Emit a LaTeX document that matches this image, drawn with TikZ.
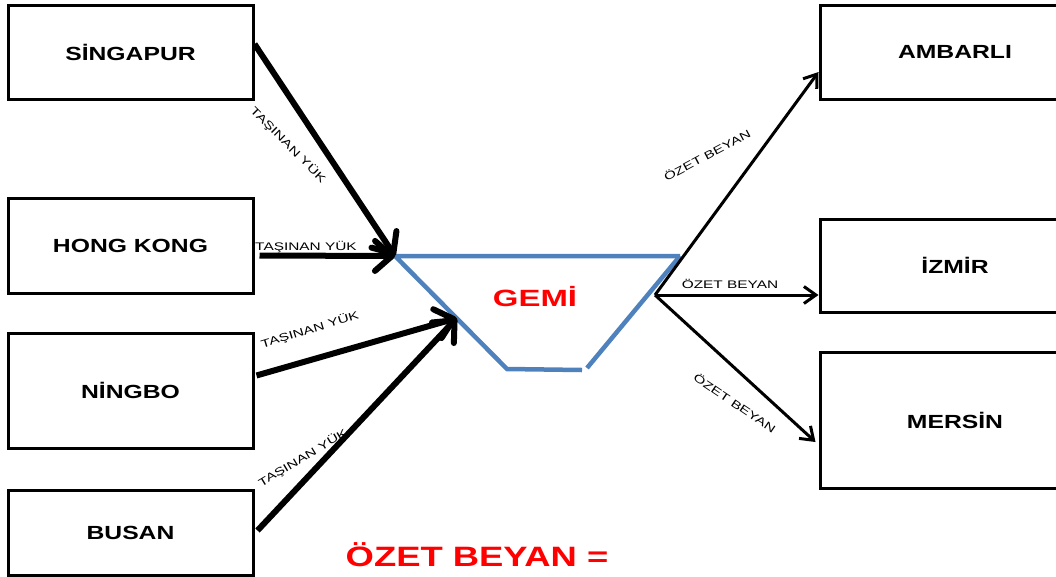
\documentclass[tikz,border=0pt]{standalone}
\usepackage{fontspec}
\setmainfont{Liberation Sans}
\newfontfamily\wideboldfont{Liberation Sans}[FakeStretch=1.3]
\newfontfamily\gemifont{Liberation Sans}[FakeStretch=1.4]
\newfontfamily\lblfontfam{Liberation Sans}[FakeStretch=1.4]
\usetikzlibrary{arrows.meta,calc}
\definecolor{shipblue}{HTML}{4F81BD}
\definecolor{redtxt}{HTML}{FF0000}
\begin{document}
\begin{tikzpicture}[x=1pt,y=-1pt,
  place/.style={draw=black, line width=3pt, minimum width=245pt, inner sep=0pt,
    font=\wideboldfont\bfseries\fontsize{19}{19}\selectfont},
  rplace/.style={place, minimum width=270pt},
  bigarrow/.style={line width=6pt, -{Straight Barb[length=17pt,width=30pt,line width=6pt,round]}},
  smallarrow/.style={line width=3pt, -{Straight Barb[length=12pt,width=17pt,line width=3pt]}},
  ship/.style={draw=shipblue, line width=4.5pt},
  lbl/.style={inner sep=0pt, font=\lblfontfam\fontsize{11}{11}\selectfont},
  redtitle/.style={text=redtxt, inner sep=0pt}]
\useasboundingbox (0,0) rectangle (1056,576);
% source boxes
\node[place, minimum height=94pt] (sing) at (130.5,52) {SİNGAPUR};
\node[place, minimum height=95pt] (hong) at (130.5,245.5) {HONG KONG};
\node[place, minimum height=115pt] (ning) at (130.5,390.5) {NİNGBO};
\node[place, minimum height=85pt] (busan) at (130.5,532.5) {BUSAN};
% destination boxes
\node[rplace, minimum height=94pt] (amb) at (955,52) {AMBARLI};
\node[rplace, minimum height=93pt] (izm) at (955,265.5) {İZMİR};
\node[rplace, minimum height=136pt] (mer) at (955,420) {MERSİN};
% ship
\coordinate (tl) at (395,256);
\coordinate (tr) at (680,256);
\coordinate (bl) at (507,369);
\coordinate (br) at (582,370);
\coordinate (brs) at (587,368);
\draw[ship] (tr) -- (tl) -- (bl) -- (br);
\draw[ship] (brs) -- (tr);
\node[redtitle, font=\gemifont\bfseries\fontsize{23.5}{23.5}\selectfont] (gemi) at (535,297) {GEMİ};
\coordinate (hit) at ($(tl)!0.55!(bl)$);
\coordinate (src) at (655,295);
% incoming arrows
\draw[bigarrow] ([yshift=8pt]sing.east) -- (tl);
\draw[bigarrow] ([xshift=5pt,yshift=-10pt]hong.east) -- (tl);
\draw[bigarrow] ([xshift=2pt,yshift=15pt]ning.east) -- (hit);
\draw[bigarrow] ([xshift=3pt,yshift=2pt]busan.east) -- (hit);
% outgoing arrows
\draw[smallarrow] (src) -- ([yshift=-20pt]amb.west);
\draw[smallarrow] (src) -- ([yshift=-29.5pt]izm.west);
\draw[smallarrow] (src) -- ([xshift=-3pt,yshift=-22pt]mer.west);
% labels
\node[lbl, rotate=-45] (l1) at (288,145) {TAŞINAN YÜK};
\node[lbl] (l2) at (306,247) {TAŞINAN YÜK};
\node[lbl, rotate=17] (l3) at (310,330) {TAŞINAN YÜK};
\node[lbl, rotate=31] (l4) at (303,458) {TAŞINAN YÜK};
\node[lbl, rotate=28] (r1) at (707,155) {ÖZET BEYAN};
\node[lbl] (r2) at (730,284) {ÖZET BEYAN};
\node[lbl, rotate=-34] (r3) at (735,403) {ÖZET BEYAN};
% bottom title
\node[redtitle, font=\wideboldfont\bfseries\fontsize{28}{28}\selectfont] (ozet) at (477,555) {ÖZET BEYAN =};
\end{tikzpicture}
\end{document}
